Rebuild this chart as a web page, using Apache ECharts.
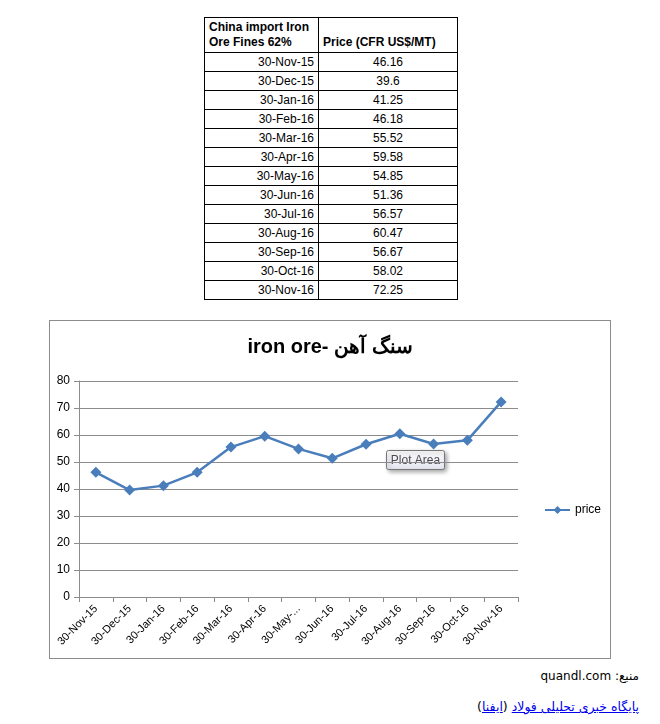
<!DOCTYPE html>
<html>
<head>
<meta charset="utf-8">
<script src="https://cdn.jsdelivr.net/npm/echarts@6/dist/echarts.min.js"></script>
<style>
  html, body { margin: 0; padding: 0; background: #fff; width: 660px; height: 724px; overflow: hidden; }
  body { position: relative; font-family: "Liberation Sans", Arial, sans-serif; }
  #tbl { position: absolute; left: 204px; top: 17px; border-collapse: collapse; border: 1px solid #000; font-family: "Liberation Sans", Arial, sans-serif; font-size: 12px; color: #000; }
  #tbl td { border-left: 1px solid #000; border-right: 1px solid #000; border-top: 1px solid #000; padding: 0 4px; height: 19px; line-height: 18px; box-sizing: border-box; }
  #tbl td.d { width: 114px; text-align: right; }
  #tbl td.v { width: 139px; text-align: center; }
  #tbl tr.h td { font-weight: bold; height: 35px; line-height: 15px; vertical-align: bottom; text-align: left; padding-bottom: 2px; }
  #chart { position: absolute; left: 49px; top: 320px; width: 560px; height: 337px; border: 1px solid #8c8c8c; }
  #src { position: absolute; right: 21px; top: 669px; direction: rtl; font-size: 12px; color: #000; font-family: "DejaVu Sans", "Liberation Sans", sans-serif; }
  #lnk { position: absolute; right: 21px; top: 699px; direction: rtl; font-size: 12.5px; color: #000; font-family: "DejaVu Sans", "Liberation Sans", sans-serif; }
  #lnk a { color: #0000ee; text-decoration: underline; }
</style>
</head>
<body>
<table id="tbl"></table>
<div id="chart"></div>
<div id="src">منبع: quandl.com</div>
<div id="lnk"><a href="#">پایگاه خبری تحلیلی فولاد</a> (<a href="#">ایفنا</a>)</div>
<script>
const headerCol1 = "China import Iron<br>Ore Fines 62%";
const headerCol2 = "Price (CFR US$/MT)";
const categories = ["30-Nov-15","30-Dec-15","30-Jan-16","30-Feb-16","30-Mar-16","30-Apr-16","30-May-16","30-Jun-16","30-Jul-16","30-Aug-16","30-Sep-16","30-Oct-16","30-Nov-16"];
const priceText = ["46.16","39.6","41.25","46.18","55.52","59.58","54.85","51.36","56.57","60.47","56.67","58.02","72.25"];
const prices = [46.16,39.6,41.25,46.18,55.52,59.58,54.85,51.36,56.57,60.47,56.67,58.02,72.25];
const xTickLabels = ["30-Nov-15","30-Dec-15","30-Jan-16","30-Feb-16","30-Mar-16","30-Apr-16","30-May-...","30-Jun-16","30-Jul-16","30-Aug-16","30-Sep-16","30-Oct-16","30-Nov-16"];
const yTicks = [0,10,20,30,40,50,60,70,80];
const chartTitle = "iron ore- سنگ آهن";
const seriesName = "price";

// table
const tbl = document.getElementById('tbl');
let html = '<tr class="h"><td class="d">' + headerCol1 + '</td><td class="v">' + headerCol2 + '</td></tr>';
for (let i = 0; i < categories.length; i++) {
  html += '<tr><td class="d">' + categories[i] + '</td><td class="v">' + priceText[i] + '</td></tr>';
}
tbl.innerHTML = html;

const chart = echarts.init(document.getElementById('chart'));
chart.setOption({
  animation: false,
  title: {
    text: chartTitle, left: 'center', top: 11,
    textStyle: { fontFamily: 'Liberation Sans, Arial, sans-serif', fontSize: 20, fontWeight: 'bold', color: '#000' }
  },
  legend: {
    data: [seriesName], left: 489, top: 178, itemWidth: 25, itemHeight: 10, itemGap: 4,
    textStyle: { fontSize: 12, color: '#000', fontFamily: 'Liberation Sans, Arial, sans-serif' }
  },
  grid: { left: 29, top: 60, width: 439, height: 216 },
  xAxis: {
    type: 'category', data: categories, boundaryGap: true,
    axisLine: { lineStyle: { color: '#8c8c8c', width: 1 } },
    axisTick: { show: true, length: 5, interval: 0, lineStyle: { color: '#8c8c8c' } },
    axisLabel: {
      interval: 0, rotate: 45, fontSize: 11, color: '#000', margin: 10,
      fontFamily: 'Liberation Sans, Arial, sans-serif',
      formatter: function (v, i) { return xTickLabels[i]; }
    }
  },
  yAxis: {
    type: 'value', min: yTicks[0], max: yTicks[yTicks.length - 1], interval: 10,
    axisLine: { show: true, lineStyle: { color: '#8c8c8c', width: 1 } },
    axisTick: { show: true, length: 5, lineStyle: { color: '#8c8c8c' } },
    axisLabel: { fontSize: 12, color: '#000', margin: 9, fontFamily: 'Liberation Sans, Arial, sans-serif' },
    splitLine: { show: true, lineStyle: { color: '#8c8c8c', width: 1 } }
  },
  series: [{
    name: seriesName, type: 'line', data: prices,
    symbol: 'diamond', symbolSize: 11,
    lineStyle: { color: '#4a7ebb', width: 2.5 },
    itemStyle: { color: '#4a7ebb' }
  }],
  graphic: [{
    type: 'group', left: 336, top: 129,
    children: [
      { type: 'rect', shape: { x: 0, y: 0, width: 58, height: 19, r: 2 },
        style: { fill: { type: 'linear', x: 0, y: 0, x2: 0, y2: 1, colorStops: [{ offset: 0, color: '#ffffff' }, { offset: 1, color: '#e4e5f0' }] },
                 stroke: '#767676', lineWidth: 1, shadowBlur: 4, shadowColor: 'rgba(0,0,0,0.35)', shadowOffsetX: 2, shadowOffsetY: 2 } },
      { type: 'text', x: 29, y: 10, style: { text: 'Plot Area', fill: '#4c4c4c', fontSize: 12, fontFamily: 'Liberation Sans, Arial, sans-serif', align: 'center', verticalAlign: 'middle' } }
    ]
  }]
});
</script>
</body>
</html>
